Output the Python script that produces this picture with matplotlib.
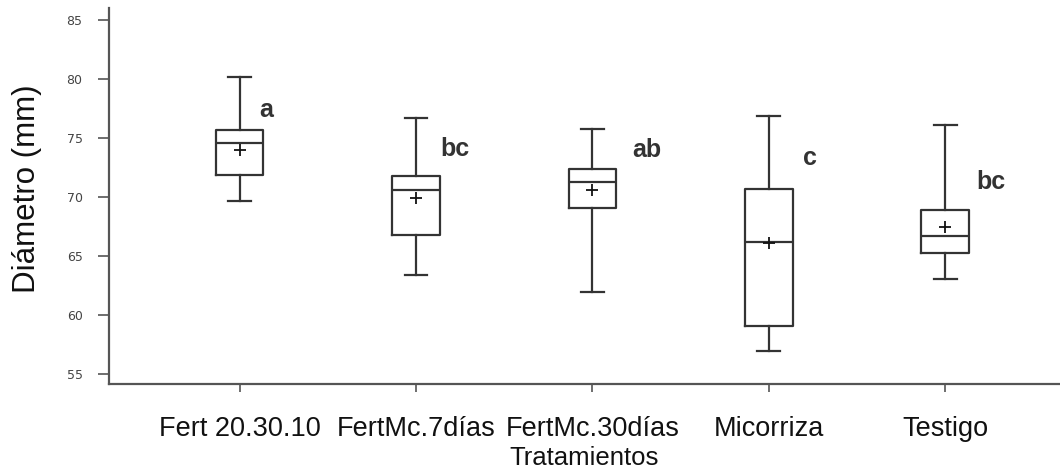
import numpy as np
import matplotlib.pyplot as plt

# Box plot of diameter by treatment
categories = ["Fert 20.30.10", "FertMc.7días", "FertMc.30días", "Micorriza", "Testigo"]
whis_hi = [80.2, 76.7, 75.8, 76.9, 76.1]
q3 = [75.7, 71.8, 72.4, 70.7, 68.9]
median = [74.6, 70.6, 71.3, 66.2, 66.75]
q1 = [71.9, 66.8, 69.1, 59.1, 65.3]
whis_lo = [69.7, 63.4, 61.95, 57.0, 63.1]
means = [74.0, 69.9, 70.6, 66.1, 67.45]

letters = ["a", "bc", "ab", "c", "bc"]
letter_y = [77.4, 74.1, 74.0, 73.3, 71.25]
letter_dx = [0.15, 0.22, 0.31, 0.23, 0.26]

stats = []
for i in range(len(categories)):
    stats.append(dict(label=categories[i], med=median[i], q1=q1[i], q3=q3[i],
                      whislo=whis_lo[i], whishi=whis_hi[i], mean=means[i],
                      fliers=[]))

plt.rcParams['font.family'] = ['Liberation Sans', 'DejaVu Sans']

fig = plt.figure(figsize=(10.6, 4.74), dpi=100)
ax = fig.add_axes([0.1028, 0.19, 0.8972, 0.793])

pos = np.arange(1, len(categories) + 1)
line_c = "#333333"
ax.bxp(stats, positions=pos, widths=0.27, capwidths=0.13, showmeans=True,
       showfliers=False,
       boxprops=dict(color=line_c, linewidth=1.6),
       medianprops=dict(color=line_c, linewidth=1.6),
       whiskerprops=dict(color=line_c, linewidth=1.6),
       capprops=dict(color=line_c, linewidth=1.6),
       meanprops=dict(marker="+", markeredgecolor="#111111", markersize=8,
                      markeredgewidth=1.3))

for i in range(len(categories)):
    ax.text(pos[i] + letter_dx[i], letter_y[i], letters[i], fontsize=18,
            fontweight="bold", color="#333333", ha="center", va="center")

ax.set_xlim(0.26, 5.65)
ax.set_ylim(54.2, 86)
ax.set_yticks([55, 60, 65, 70, 75, 80, 85])
ax.set_xticks(pos)
ax.set_xticklabels(categories, fontsize=19.5)
for lab in ax.get_yticklabels():
    lab.set_family("DejaVu Sans")
ax.tick_params(axis="y", labelsize=9, labelcolor="#444444", length=8,
               width=1.2, color="#555555", pad=11)
ax.tick_params(axis="x", length=6, width=1.2, color="#555555", pad=17,
               labelcolor="#111111")

for s in ["top", "right"]:
    ax.spines[s].set_visible(False)
for s in ["left", "bottom"]:
    ax.spines[s].set_color("#555555")
    ax.spines[s].set_linewidth(1.6)

ax.set_xlabel("Tratamientos", fontsize=18.5, color="#111111", labelpad=3)
ax.set_ylabel("Diámetro (mm)", fontsize=22.5, color="#111111")
ax.yaxis.set_label_coords(-0.07, 0.52)

fig.savefig("out.png", dpi=100)
